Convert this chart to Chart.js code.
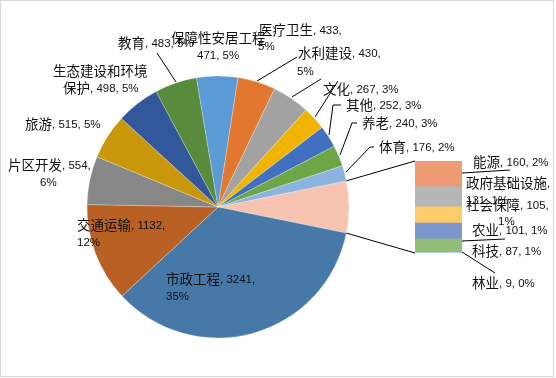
<!DOCTYPE html>
<html>
<head>
<meta charset="utf-8">
<script src="https://cdn.jsdelivr.net/npm/chart.js@4"></script>
<style>
  body { margin: 0; background: #fff; }
  #wrap { position: relative; width: 556px; height: 378px; }
  canvas { position: absolute; left: 0; top: 0; }
  #frame { position: absolute; left: 0; top: 0; width: 552px; height: 375px; border: 1px solid #d9d9d9; }
</style>
</head>
<body>
<div id="wrap">
  <canvas id="pie" width="556" height="378"></canvas>
  <canvas id="bar" width="556" height="378"></canvas>
  <div id="frame"></div>
</div>
<script>
// main pie slices, clockwise after the "other" slice
const mainNames = ['市政工程', '交通运输', '片区开发', '旅游', '生态建设和环境保护', '教育', '保障性安居工程', '医疗卫生', '水利建设', '文化', '其他', '养老', '体育']
const mainValues = [3241, 1132, 554, 515, 498, 483, 471, 433, 430, 267, 252, 240, 176]
const mainPercents = ['35%', '12%', '6%', '5%', '5%', '5%', '5%', '5%', '5%', '3%', '3%', '3%', '2%']
const mainColors = ['#4779a8', '#b96124', '#878787', '#c8970a', '#32589b', '#588b3b', '#5b9bd5', '#e2782f', '#a2a2a2', '#f0b400', '#4170c0', '#6ca646', '#8cb3e0']

// the small ones, shown in the stacked bar
const barNames = ['能源', '政府基础设施', '社会保障', '农业', '科技', '林业']
const barValues = [160, 131, 105, 101, 87, 9]
const barPercents = ['2%', '1%', '1%', '1%', '1%', '0%']
const barColors = ['#ef9b72', '#b6b6b6', '#fecb6a', '#7c97d0', '#93be79', '#b4cdeb']
const otherColor = '#f5c3af'

const otherTotal = barValues.reduce((a, b) => a + b, 0)
const total = mainValues.reduce((a, b) => a + b, 0) + otherTotal

// label placement: [x, y] of each line, cut = where the text wraps
const labelPos = {
  '市政工程': { cut: 'pct', lines: [[166, 279], [166, 296]] },
  '交通运输': { cut: 'pct', lines: [[77, 225], [77, 242]] },
  '片区开发': { cut: 'pct', lines: [[8, 165], [40, 182]] },
  '旅游': { lines: [[25, 124]] },
  '生态建设和环境保护': { cut: 7, lines: [[53, 71], [63, 88]] },
  '教育': { lines: [[118, 43]] },
  '保障性安居工程': { cut: 7, lines: [[171, 38], [197, 55]] },
  '医疗卫生': { cut: 'pct', lines: [[259, 30], [258, 46]] },
  '水利建设': { cut: 'pct', lines: [[298, 53], [297, 71]] },
  '文化': { lines: [[323, 89]] },
  '其他': { lines: [[346, 105]] },
  '养老': { lines: [[362, 123]] },
  '体育': { lines: [[379, 147]] },
  '能源': { lines: [[473, 162]] },
  '政府基础设施': { cut: 7, lines: [[466, 183], [466, 200]] },
  '社会保障': { cut: 'pct', lines: [[466, 205], [498, 221]] },
  '农业': { lines: [[472, 230]] },
  '科技': { lines: [[472, 251]] },
  '林业': { lines: [[472, 283]] }
}

const leaders = [
  [[157, 53], [176, 82]],
  [[257, 81], [297, 57]],
  [[292, 97], [321, 79]],
  [[315, 117], [338, 81]],
  [[329, 135], [333, 105], [341, 105]],
  [[340, 155], [352, 123], [357, 123]],
  [[346, 172], [370, 147], [374, 147]],
  [[462, 173], [510, 170]],
  [[462, 241], [505, 239]],
  [[462, 252], [495, 273]]
]

const pieChart = new Chart(document.getElementById('pie'), {
  type: 'pie',
  data: {
    labels: ['其它'].concat(mainNames),
    datasets: [{
      data: [otherTotal].concat(mainValues),
      backgroundColor: [otherColor].concat(mainColors),
      borderColor: 'rgba(255,255,255,0.5)',
      borderWidth: 0.5,
      radius: 131
    }]
  },
  options: {
    responsive: false,
    animation: false,
    rotation: 90 - otherTotal / total * 180,
    layout: { padding: { left: 87, right: 207, top: 76, bottom: 40 } },
    plugins: { legend: { display: false }, tooltip: { enabled: false } }
  }
})

function labelLines (name, value, pct) {
  const full = name + ', ' + value + ', ' + pct
  const pos = labelPos[name]
  if (!pos.cut) return [full]
  const cut = pos.cut === 'pct' ? full.lastIndexOf(',') + 1 : pos.cut
  return [full.slice(0, cut).trim(), full.slice(cut).replace(/^[,\s]+/, '')]
}

// CJK and latin runs get different sizes, like the original
function drawMixed (ctx, text, x, y) {
  const runs = text.match(/[\u3400-\u9fff]+|[^\u3400-\u9fff]+/g) || []
  runs.forEach(r => {
    const cjk = /[\u3400-\u9fff]/.test(r)
    ctx.font = cjk ? '13.5px "Noto Sans CJK SC", sans-serif' : '11.5px "Liberation Sans", sans-serif'
    ctx.fillText(r, x, y + (cjk ? 0 : 0.5))
    x += ctx.measureText(r).width
  })
}

const labelPlugin = {
  id: 'labels',
  afterDraw (chart) {
    const ctx = chart.ctx
    const area = chart.chartArea
    const arc = pieChart.getDatasetMeta(0).data[0]
    ctx.save()
    ctx.strokeStyle = '#000'
    ctx.lineWidth = 1
    // connectors between the other slice and the bar
    ctx.beginPath()
    ctx.moveTo(arc.x + arc.outerRadius * Math.cos(arc.startAngle), arc.y + arc.outerRadius * Math.sin(arc.startAngle))
    ctx.lineTo(area.left, area.top)
    ctx.moveTo(arc.x + arc.outerRadius * Math.cos(arc.endAngle), arc.y + arc.outerRadius * Math.sin(arc.endAngle))
    ctx.lineTo(area.left, area.bottom)
    ctx.stroke()
    // leader lines
    leaders.forEach(pts => {
      ctx.beginPath()
      pts.forEach((p, i) => i ? ctx.lineTo(p[0], p[1]) : ctx.moveTo(p[0], p[1]))
      ctx.stroke()
    })
    // labels
    ctx.fillStyle = '#111'
    ctx.textBaseline = 'middle'
    const names = mainNames.concat(barNames)
    const values = mainValues.concat(barValues)
    const pcts = mainPercents.concat(barPercents)
    names.forEach((n, i) => {
      labelLines(n, values[i], pcts[i]).forEach((t, j) => {
        const p = labelPos[n].lines[j]
        drawMixed(ctx, t, p[0], p[1])
      })
    })
    ctx.restore()
  }
}

new Chart(document.getElementById('bar'), {
  type: 'bar',
  data: {
    labels: ['其它'],
    datasets: barNames.map((n, i) => ({
      label: n,
      data: [barValues[i]],
      backgroundColor: barColors[i],
      barPercentage: 1,
      categoryPercentage: 1
    }))
  },
  options: {
    responsive: false,
    animation: false,
    layout: { padding: { left: 415, right: 94, top: 161, bottom: 125 } },
    scales: {
      x: { stacked: true, display: false },
      y: { stacked: true, display: false, min: 0, max: otherTotal, reverse: true }
    },
    plugins: { legend: { display: false }, tooltip: { enabled: false } }
  },
  plugins: [labelPlugin]
})
</script>
</body>
</html>
